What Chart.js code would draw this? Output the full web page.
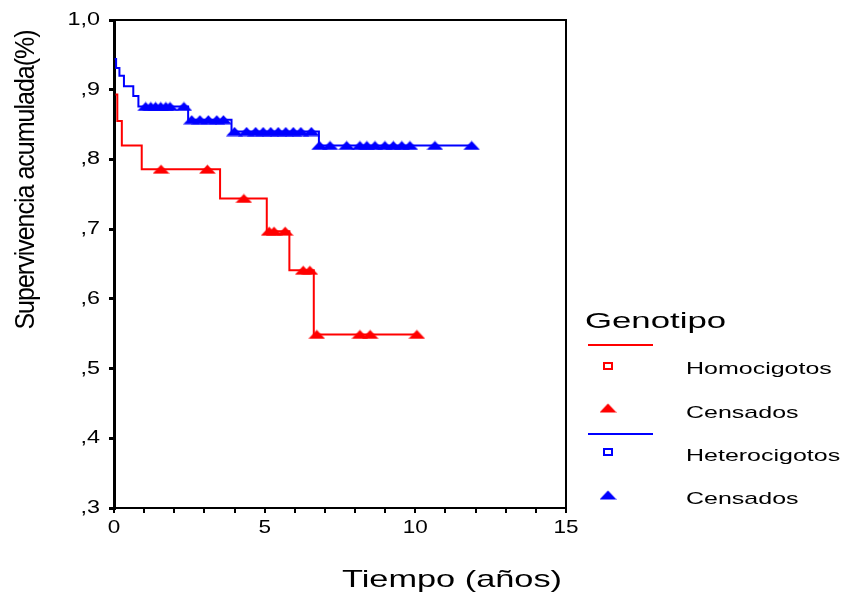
<!DOCTYPE html>
<html>
<head>
<meta charset="utf-8">
<script src="https://cdn.jsdelivr.net/npm/chart.js@4.4.0/dist/chart.umd.min.js"></script>
<style>
html, body { margin: 0; padding: 0; background: #fff; }
#survChart { display: block; }
</style>
</head>
<body>
<canvas id="survChart" width="850" height="594"></canvas>
<script>
// Kaplan-Meier steps (time in years, cumulative survival)
var homoTimes = [0.05, 0.11, 0.26, 0.92, 3.52, 5.07, 5.82, 6.63, 10.05];
var homoSurv  = [0.893, 0.855, 0.820, 0.786, 0.744, 0.697, 0.641, 0.549, 0.549];
var homoCensTimes = [1.56, 3.10, 4.31, 5.15, 5.31, 5.68, 6.28, 6.50, 6.73, 8.16, 8.50, 10.05];
var homoCensSurv  = [0.786, 0.786, 0.744, 0.697, 0.697, 0.697, 0.641, 0.641, 0.549, 0.549, 0.549, 0.549];

var heteroTimes = [0.02, 0.07, 0.18, 0.33, 0.64, 0.81, 2.46, 3.90, 6.80, 11.88];
var heteroSurv  = [0.944, 0.931, 0.920, 0.905, 0.891, 0.876, 0.857, 0.840, 0.820, 0.820];
var heteroCensTimes = [1.05, 1.22, 1.38, 1.55, 1.72, 1.86, 2.32,
                       2.58, 2.85, 3.13, 3.41, 3.63,
                       4.00, 4.40, 4.70, 4.95, 5.20, 5.45, 5.70, 5.95, 6.20, 6.55,
                       6.82, 7.17, 7.72, 8.16, 8.39, 8.66, 8.99, 9.27, 9.55, 9.82, 10.65, 11.87];
var heteroCensSurv  = [0.876, 0.876, 0.876, 0.876, 0.876, 0.876, 0.876,
                       0.857, 0.857, 0.857, 0.857, 0.857,
                       0.840, 0.840, 0.840, 0.840, 0.840, 0.840, 0.840, 0.840, 0.840, 0.840,
                       0.820, 0.820, 0.820, 0.820, 0.820, 0.820, 0.820, 0.820, 0.820, 0.820, 0.820, 0.820];

var xTickValues = [0, 5, 10, 15];
var xTickLabels = ['0', '5', '10', '15'];
var yTickValues = [1.0, 0.9, 0.8, 0.7, 0.6, 0.5, 0.4, 0.3];
var yTickLabels = ['1,0', ',9', ',8', ',7', ',6', ',5', ',4', ',3'];

var RED = '#ff0000';
var BLUE = '#0000ff';
var FONT = '"Liberation Sans", Arial, sans-serif';

function toPoints(xs, ys) {
    return xs.map(function(x, i){ return { x: x, y: ys[i] }; });
}

// flat censoring triangle used as point image
function makeTriangle(color) {
    var c = document.createElement('canvas');
    c.width = 17;
    c.height = 10;
    var g = c.getContext('2d');
    g.fillStyle = color;
    g.beginPath();
    g.moveTo(8.5, 0.5);
    g.lineTo(17, 9.5);
    g.lineTo(0, 9.5);
    g.closePath();
    g.fill();
    return c;
}

var triRed = makeTriangle(RED);
var triBlue = makeTriangle(BLUE);

function stretchText(ctx, text, x, y, size, sx, align, baseline) {
    ctx.save();
    ctx.font = size + 'px ' + FONT;
    ctx.fillStyle = '#000';
    ctx.textAlign = align;
    ctx.textBaseline = baseline;
    ctx.translate(x, y);
    ctx.scale(sx, 1);
    ctx.fillText(text, 0, 0);
    ctx.restore();
}

var decorPlugin = {
    id: 'decor',
    afterDraw: function(chart) {
        var ctx = chart.ctx;
        var area = chart.chartArea;
        var xs = chart.scales.x;
        var ys = chart.scales.y;

        // closing frame on top and right
        ctx.save();
        ctx.strokeStyle = '#000';
        ctx.lineWidth = 2;
        ctx.beginPath();
        ctx.moveTo(area.left, area.top);
        ctx.lineTo(area.right, area.top);
        ctx.lineTo(area.right, area.bottom);
        ctx.stroke();
        ctx.restore();

        yTickValues.forEach(function(v, i){
            stretchText(ctx, yTickLabels[i], 100, ys.getPixelForValue(v), 18, 1.3, 'right', 'middle');
        });
        xTickValues.forEach(function(v, i){
            stretchText(ctx, xTickLabels[i], xs.getPixelForValue(v), 528, 18, 1.25, 'center', 'middle');
        });

        stretchText(ctx, 'Tiempo (años)', 452, 580, 24, 1.43, 'center', 'middle');

        // vertical axis title, tightly set
        ctx.save();
        ctx.font = '25px ' + FONT;
        ctx.fillStyle = '#000';
        ctx.textAlign = 'center';
        ctx.textBaseline = 'middle';
        ctx.letterSpacing = '-1px';
        ctx.translate(26, 180);
        ctx.scale(1.1, 1);
        ctx.rotate(-Math.PI / 2);
        ctx.fillText('Supervivencia acumulada(%)', 0, 0);
        ctx.restore();

        // legend
        stretchText(ctx, 'Genotipo', 585, 328, 22, 1.58, 'left', 'alphabetic');
        var rows = [
            { color: RED, lineY: 345, boxY: 366, triY: 408, name: 'Homocigotos', nameY: 374, censY: 418, tri: triRed },
            { color: BLUE, lineY: 434, boxY: 452, triY: 495, name: 'Heterocigotos', nameY: 461, censY: 504, tri: triBlue }
        ];
        rows.forEach(function(r){
            ctx.save();
            ctx.strokeStyle = r.color;
            ctx.lineWidth = 2;
            ctx.beginPath();
            ctx.moveTo(588, r.lineY);
            ctx.lineTo(653, r.lineY);
            ctx.stroke();
            ctx.strokeRect(604, r.boxY - 3, 8, 6);
            ctx.drawImage(r.tri, 608 - 8.5, r.triY - 5);
            ctx.restore();
            stretchText(ctx, r.name, 686, r.nameY, 17, 1.47, 'left', 'alphabetic');
            stretchText(ctx, 'Censados', 686, r.censY, 17, 1.47, 'left', 'alphabetic');
        });
    }
};

var ctx = document.getElementById('survChart').getContext('2d');
var survChart = new Chart(ctx, {
    type: 'scatter',
    data: {
        datasets: [{
            label: 'Homocigotos',
            data: toPoints(homoTimes, homoSurv),
            showLine: true,
            stepped: true,
            borderColor: RED,
            borderWidth: 2,
            pointRadius: 0,
            fill: false,
            clip: false
        }, {
            label: 'Heterocigotos',
            data: toPoints(heteroTimes, heteroSurv),
            showLine: true,
            stepped: true,
            borderColor: BLUE,
            borderWidth: 2,
            pointRadius: 0,
            fill: false,
            clip: false
        }, {
            label: 'Censados',
            data: toPoints(homoCensTimes, homoCensSurv),
            showLine: false,
            pointStyle: triRed,
            pointRadius: 8,
            clip: false
        }, {
            label: 'Censados',
            data: toPoints(heteroCensTimes, heteroCensSurv),
            showLine: false,
            pointStyle: triBlue,
            pointRadius: 8,
            clip: false
        }]
    },
    options: {
        responsive: false,
        animation: false,
        events: [],
        layout: { padding: { top: 20, right: 284, left: 0, bottom: 0 } },
        plugins: {
            legend: { display: false },
            tooltip: { enabled: false }
        },
        scales: {
            x: {
                type: 'linear',
                min: 0,
                max: 15,
                ticks: { stepSize: 1, display: false },
                grid: { drawOnChartArea: false, drawTicks: true, tickLength: 5, color: '#000', lineWidth: 2 },
                border: { display: true, color: '#000', width: 2 },
                afterFit: function(scale){ scale.height = 86; }
            },
            y: {
                type: 'linear',
                min: 0.3,
                max: 1.0,
                ticks: { stepSize: 0.1, display: false },
                grid: { drawOnChartArea: false, drawTicks: true, tickLength: 5, color: '#000', lineWidth: 3 },
                border: { display: true, color: '#000', width: 3 },
                afterFit: function(scale){ scale.width = 114; }
            }
        }
    },
    plugins: [decorPlugin]
});
</script>
</body>
</html>
